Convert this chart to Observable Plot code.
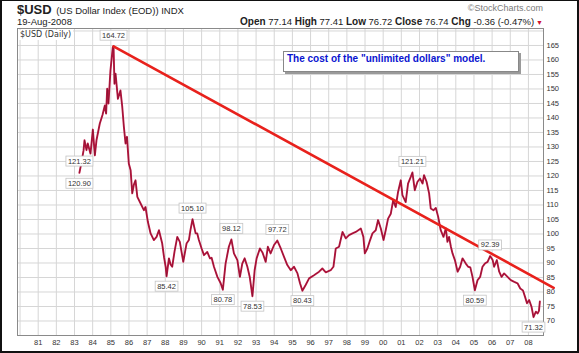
<!DOCTYPE html>
<html><head><meta charset="utf-8">
<script src="https://cdn.jsdelivr.net/npm/d3@7"></script>
<script src="https://cdn.jsdelivr.net/npm/@observablehq/plot@0.6"></script>
<style>
body{margin:0;background:#fff;}
#wrap{position:relative;width:579px;height:353px;overflow:hidden;background:#fff;font-family:"Liberation Sans",Arial,sans-serif;}
.o{position:absolute;white-space:nowrap;color:#222;}
#border{position:absolute;left:0;top:0;width:579px;height:353px;box-sizing:border-box;border:2px solid #111;border-top-width:1px;pointer-events:none;}
</style></head>
<body><div id="wrap"></div>
<script>
// Dates as fractional years, US Dollar Index daily closes
const years = [1983.27,1983.38,1983.50,1983.55,1983.66,1983.73,1983.88,1984.01,1984.12,1984.21,1984.39,1984.54,1984.67,1984.74,1984.80,1984.87,1984.98,1985.11,1985.15,1985.20,1985.26,1985.39,1985.53,1985.63,1985.72,1985.81,1985.89,1985.99,1986.09,1986.18,1986.27,1986.36,1986.46,1986.64,1986.82,1986.91,1987.04,1987.19,1987.37,1987.52,1987.65,1987.83,1987.93,1988.02,1988.07,1988.20,1988.29,1988.38,1988.51,1988.66,1988.80,1988.99,1989.17,1989.30,1989.39,1989.50,1989.67,1989.76,1989.85,1990.00,1990.13,1990.31,1990.46,1990.55,1990.68,1990.87,1991.05,1991.17,1991.32,1991.50,1991.64,1991.78,1991.97,1992.11,1992.24,1992.37,1992.52,1992.65,1992.80,1992.92,1993.03,1993.21,1993.36,1993.53,1993.65,1993.80,1993.99,1994.17,1994.36,1994.54,1994.72,1994.91,1995.09,1995.28,1995.42,1995.55,1995.73,1995.92,1996.19,1996.47,1996.65,1996.84,1997.11,1997.26,1997.39,1997.57,1997.76,1997.94,1998.12,1998.31,1998.49,1998.77,1998.91,1998.99,1999.13,1999.28,1999.41,1999.59,1999.72,1999.87,2000.02,2000.14,2000.27,2000.42,2000.55,2000.69,2000.82,2000.97,2001.06,2001.24,2001.37,2001.52,2001.61,2001.74,2001.89,2002.03,2002.17,2002.25,2002.39,2002.53,2002.62,2002.77,2002.90,2003.03,2003.17,2003.32,2003.45,2003.54,2003.63,2003.73,2003.82,2003.95,2004.10,2004.24,2004.37,2004.55,2004.68,2004.80,2004.92,2005.05,2005.20,2005.34,2005.47,2005.60,2005.75,2005.89,2006.03,2006.11,2006.26,2006.39,2006.52,2006.66,2006.85,2007.03,2007.22,2007.40,2007.55,2007.70,2007.81,2007.92,2008.04,2008.17,2008.28,2008.41,2008.51,2008.58,2008.63];
const usd = [121.1,124.5,128.9,132.3,128.9,131.2,127.7,136.0,127.1,132.3,138.0,141.0,144.3,141.5,150.1,145.0,156.4,164.4,164.72,151.8,155.3,146.6,149.5,143.8,136.9,131.2,133.5,124.3,122.0,114.0,117.0,118.5,112.8,110.5,108.2,109.3,104.2,100.2,97.9,99.0,101.3,96.7,92.0,88.7,85.42,91.6,89.5,88.7,94.0,99.0,97.3,90.4,96.7,97.9,101.5,105.1,100.2,100.2,97.9,95.0,92.7,93.8,91.6,91.8,88.7,85.2,83.0,80.78,89.8,95.6,98.12,93.3,91.0,85.2,89.8,91.6,88.7,85.2,78.53,87.5,91.6,95.0,93.5,90.4,95.6,93.3,96.2,97.72,95.0,92.1,89.3,87.5,88.7,86.4,83.0,80.43,82.4,84.7,85.8,87.0,88.1,86.8,87.5,88.7,95.0,95.6,100.7,98.5,99.6,100.2,100.7,101.9,99.0,93.3,95.0,97.9,100.2,101.3,104.8,101.9,97.9,101.3,105.3,107.0,111.6,109.3,114.5,118.5,113.4,111.0,117.4,119.7,121.21,115.1,118.0,119.1,117.4,120.3,118.0,114.0,108.8,108.2,109.0,105.9,101.3,99.0,101.9,97.3,99.0,95.6,93.3,91.0,87.0,88.7,91.6,89.8,88.7,88.5,85.2,80.59,84.1,85.2,88.7,89.8,90.4,92.39,91.0,88.7,91.0,87.0,85.2,86.4,85.2,84.1,83.5,83.0,81.2,80.5,78.4,76.1,77.2,74.9,71.32,73.2,72.6,73.5,76.74];

// Labelled highs and lows
const annYears  = [1985.15,1983.27,1983.27,1988.07,1989.50,1991.17,1991.64,1992.80,1994.17,1995.55,2001.61,2005.05,2005.89,2008.28];
const annValues = [164.72,121.32,120.90,85.42,105.10,80.78,98.12,78.53,97.72,80.43,121.21,80.59,92.39,71.32];
const annPlace  = ["above","above","below","below","above","below","above","below","above","below","above","below","above","below"];

// Drawn trend line (from the 1985 peak)
const trendYears  = [1985.15, 2009.39];
const trendValues = [164.72, 81.45];

const yearTicks  = d3.range(1981, 2009);
const gridYears  = d3.range(1980, 2009);
const priceTicks = d3.range(70, 166, 5);
const gridPrices = d3.range(70, 171, 5);

const series = years.map((t, i) => ({t, v: usd[i]}));
const ann = annYears.map((t, i) => ({t, v: annValues[i], label: annValues[i].toFixed(2), place: annPlace[i]}));
const trend = trendYears.map((t, i) => ({t, v: trendValues[i]}));

const chart = Plot.plot({
  width: 579, height: 353,
  marginTop: 28, marginBottom: 18, marginLeft: 17, marginRight: 36,
  style: {fontFamily: "Liberation Sans, Arial, sans-serif", fontSize: "7.5px", color: "#333", background: "transparent", overflow: "visible"},
  x: {domain: [1979.86, 2008.83], ticks: yearTicks, tickFormat: d => String(d % 100).padStart(2, "0"), tickSize: 0, tickPadding: 4, label: null},
  y: {domain: [65, 170.85], ticks: priceTicks, axis: "right", tickSize: 0, tickPadding: 3, label: null},
  marks: [
    Plot.ruleX(gridYears, {stroke: "#d6d6d6", strokeWidth: 1}),
    Plot.ruleY(gridPrices, {stroke: "#d6d6d6", strokeWidth: 1}),
    Plot.frame({stroke: "#8a8a8a"}),
    Plot.line(series, {x: "t", y: "v", stroke: "#c01a45", strokeWidth: 1.9}),
    Plot.line(series, {x: "t", y: "v", stroke: "#3a0612", strokeWidth: 0.5, strokeOpacity: 0.55}),
    Plot.line(trend, {x: "t", y: "v", stroke: "#e8211c", strokeWidth: 2.6}),
    Plot.text(ann.filter(d => d.place === "above"), {x: "t", y: "v", text: "label", dy: -11, fill: "#333", fontSize: 7.5}),
    Plot.text(ann.filter(d => d.place === "below"), {x: "t", y: "v", text: "label", dy: 10, fill: "#333", fontSize: 7.5})
  ]
});
const wrap = document.getElementById("wrap");
chart.style.position = "absolute"; chart.style.left = "0"; chart.style.top = "0";
wrap.appendChild(chart);

// white label boxes behind the value labels
d3.select(chart).selectAll('g[aria-label="text"] text').each(function() {
  const b = this.getBBox();
  const r = document.createElementNS("http://www.w3.org/2000/svg", "rect");
  r.setAttribute("x", b.x - 2); r.setAttribute("y", b.y - 0.5);
  r.setAttribute("width", b.width + 4); r.setAttribute("height", b.height + 1);
  r.setAttribute("fill", "#fff"); r.setAttribute("stroke", "#c4c4c4"); r.setAttribute("stroke-width", "0.8");
  const tr = this.getAttribute("transform"); if (tr) r.setAttribute("transform", tr);
  this.parentNode.insertBefore(r, this);
});

function add(html, css) {
  const d = document.createElement("div");
  d.className = "o"; d.innerHTML = html; Object.assign(d.style, css); wrap.appendChild(d); return d;
}
add('<b style="font-size:13px">$USD</b> <span style="font-size:9.5px">(US Dollar Index (EOD)) INDX</span>', {left: "17px", top: "2px", lineHeight: "14px", height: "14px"});
add('19-Aug-2008', {left: "17px", top: "17px", fontSize: "9.5px", lineHeight: "10px", height: "10px"});
add('©StockCharts.com', {right: "36px", top: "3px", fontSize: "9px", color: "#7a7a7a", lineHeight: "10px"});
add('<b style="font-size:10px">Open</b> 77.14 <b style="font-size:10px">High</b> 77.41 <b style="font-size:10px">Low</b> 76.72 <b style="font-size:10px">Close</b> 76.74 <b style="font-size:10px">Chg</b> -0.36 (-0.47%)<span style="color:#d01030;font-size:7px"> ▼</span>', {right: "36px", top: "16px", fontSize: "9.5px", lineHeight: "11px"});
add('$USD (Daily)', {left: "18px", top: "30px", fontSize: "8px", fontFamily: "DejaVu Sans", background: "#fff", padding: "0 2px", color: "#333", lineHeight: "10px"});
add('The cost of the "unlimited dollars" model.', {left: "283px", top: "51px", width: "236px", height: "21px", boxSizing: "border-box", border: "1px solid #888", boxShadow: "2px 2px 0 #9a9a9a", background: "#fff", color: "#0a14d0", fontWeight: "bold", fontSize: "10px", padding: "1px 0 0 3px", lineHeight: "12px"});
const bd = document.createElement("div"); bd.id = "border"; wrap.appendChild(bd);
</script></body></html>
